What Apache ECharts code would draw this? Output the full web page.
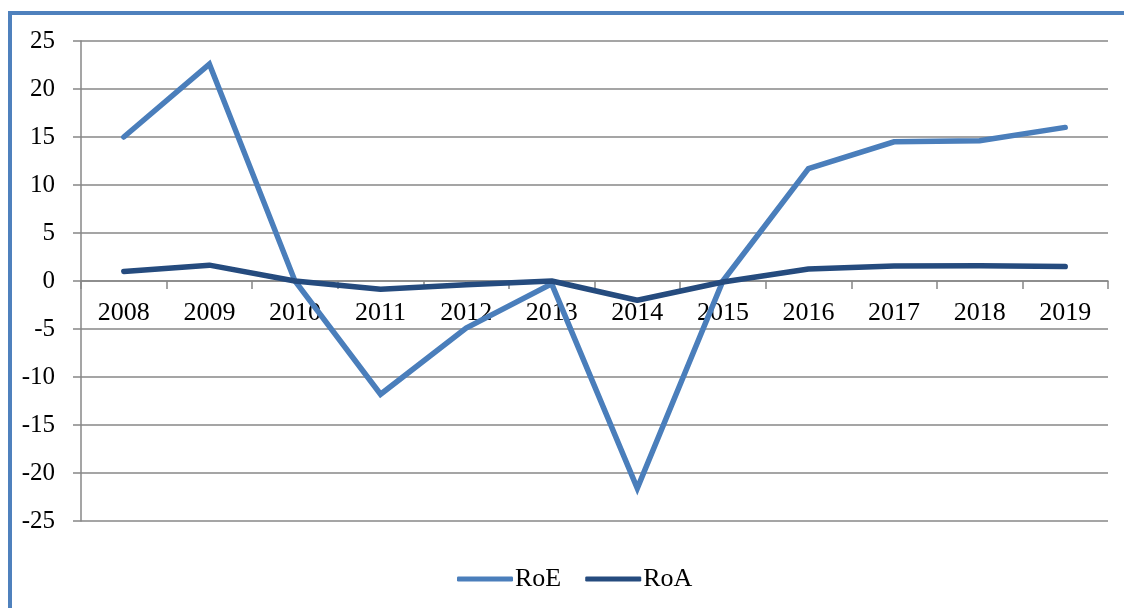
<!DOCTYPE html>
<html>
<head>
<meta charset="utf-8">
<script src="https://cdn.jsdelivr.net/npm/echarts@6/dist/echarts.min.js"></script>
<style>html,body{margin:0;padding:0;background:#fff;}#c{width:1124px;height:608px;}</style>
</head>
<body>
<div id="c"></div>
<script>
const years = ['2008','2009','2010','2011','2012','2013','2014','2015','2016','2017','2018','2019'];
const roe = [15.0, 22.6, 0.0, -11.8, -4.9, -0.3, -21.6, 0.0, 11.7, 14.5, 14.6, 16.0];
const roa = [1.0, 1.65, 0.0, -0.85, -0.4, 0.0, -2.0, -0.1, 1.25, 1.55, 1.6, 1.5];
const yTicks = { min: -25, max: 25, interval: 5 };

const FONT = '"Liberation Serif", "Times New Roman", serif';
const GRID_TOP = 41, GRID_BOTTOM = 87, H = 608;
const plotH = H - GRID_TOP - GRID_BOTTOM;
const zeroOffset = plotH * (0 - yTicks.min) / (yTicks.max - yTicks.min);

const chart = echarts.init(document.getElementById('c'));
chart.setOption({
  animation: false,
  backgroundColor: '#fff',
  graphic: [
    { type: 'rect', shape: { x: 8, y: 11, width: 1116, height: 4 }, style: { fill: '#4F81BD' } },
    { type: 'rect', shape: { x: 8, y: 11, width: 4, height: 597 }, style: { fill: '#4F81BD' } }
  ],
  grid: { left: 81, right: 16, top: GRID_TOP, bottom: GRID_BOTTOM, containLabel: false },
  legend: {
    left: 452, top: 561,
    itemWidth: 56, itemHeight: 5, itemGap: 24,
    icon: 'roundRect',
    textStyle: { fontFamily: FONT, fontSize: 26, color: '#000', padding: [0, 0, 0, -3] },
    data: ['RoE', 'RoA']
  },
  xAxis: {
    type: 'category',
    data: years,
    boundaryGap: true,
    position: 'bottom',
    offset: -zeroOffset,
    axisLine: { onZero: false, lineStyle: { color: '#878787', width: 1.5 } },
    axisTick: { show: true, length: 8, alignWithLabel: false, lineStyle: { color: '#878787', width: 1.5 } },
    axisLabel: { interval: 0, margin: 19, fontFamily: FONT, fontSize: 26, color: '#000' }
  },
  yAxis: {
    type: 'value',
    min: yTicks.min, max: yTicks.max, interval: yTicks.interval,
    axisLine: { show: true, lineStyle: { color: '#878787', width: 1.5 } },
    axisTick: { show: true, length: 8, lineStyle: { color: '#878787', width: 1.5 } },
    splitLine: { show: true, lineStyle: { color: '#878787', width: 1.5 } },
    axisLabel: { margin: 26, fontFamily: FONT, fontSize: 25, color: '#000', padding: [8, 0, 0, 0] }
  },
  series: [
    { name: 'RoE', type: 'line', data: roe, symbol: 'none', color: '#4A7EBB',
      lineStyle: { width: 5.5, color: '#4A7EBB', cap: 'round', join: 'miter' } },
    { name: 'RoA', type: 'line', data: roa, symbol: 'none', color: '#254B7E',
      lineStyle: { width: 5.5, color: '#254B7E', cap: 'round', join: 'round' } }
  ]
});
</script>
</body>
</html>
